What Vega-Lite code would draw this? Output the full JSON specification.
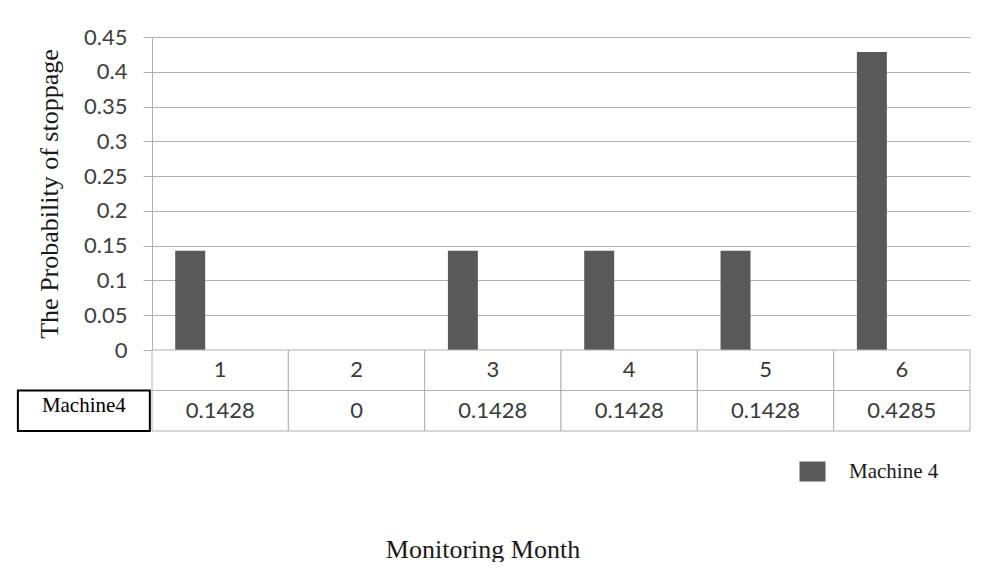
{
  "$schema": "https://vega.github.io/schema/vega-lite/v6.json",
  "padding": {"left": 16, "top": 26, "right": 0, "bottom": 0},
  "autosize": {"type": "pad"},
  "background": "white",
  "spacing": 0,
  "bounds": "flush",
  "config": {"view": {"stroke": null}},
  "datasets": {
    "prob": [
      {"month": 1, "series": "Machine 4", "value": 0.1428},
      {"month": 2, "series": "Machine 4", "value": 0},
      {"month": 3, "series": "Machine 4", "value": 0.1428},
      {"month": 4, "series": "Machine 4", "value": 0.1428},
      {"month": 5, "series": "Machine 4", "value": 0.1428},
      {"month": 6, "series": "Machine 4", "value": 0.4285}
    ],
    "rowlabel": [
      {"month": "Machine4", "label": "Machine4"}
    ]
  },
  "vconcat": [
    {
      "width": 818,
      "height": 313,
      "data": {"name": "prob"},
      "mark": {"type": "bar"},
      "encoding": {
        "x": {
          "field": "month", "type": "nominal",
          "scale": {"domain": [1, 2, 3, 4, 5, 6], "paddingInner": 0, "paddingOuter": 0},
          "axis": null
        },
        "xOffset": {
          "field": "series", "type": "nominal",
          "scale": {"domain": ["Machine 4", "Series 2", "Series 3"], "paddingInner": 0, "paddingOuter": 0.775}
        },
        "y": {
          "field": "value", "type": "quantitative",
          "scale": {"domain": [0, 0.45], "nice": false},
          "axis": {
            "title": "The Probability of stoppage",
            "values": [0, 0.05, 0.1, 0.15, 0.2, 0.25, 0.3, 0.35, 0.4, 0.45],
            "format": ".2~f",
            "grid": true,
            "gridColor": "#b0b0b0",
            "domainColor": "#b0b0b0",
            "tickColor": "#b0b0b0",
            "tickSize": 9,
            "labelPadding": 16,
            "labelFont": "Lato",
            "labelFontSize": 22,
            "labelColor": "#404040",
            "titleFont": "Liberation Serif",
            "titleFontSize": 26,
            "titleFontWeight": "normal",
            "titleColor": "#1a1a1a",
            "titlePadding": 21
          }
        },
        "color": {
          "field": "series", "type": "nominal",
          "scale": {"domain": ["Machine 4"], "range": ["#595959"]},
          "legend": {
            "title": null,
            "orient": "none",
            "legendX": 650,
            "legendY": 424,
            "padding": 0,
            "symbolType": "M-1.3,-1H1.3V1H-1.3Z",
            "symbolSize": 400,
            "symbolStrokeWidth": 0,
            "labelFont": "Liberation Serif",
            "labelFontSize": 21,
            "labelColor": "#1a1a1a",
            "labelOffset": 26
          }
        }
      }
    },
    {
      "width": 818,
      "height": 81,
      "encoding": {
        "x": {
          "field": "month", "type": "nominal",
          "scale": {"domain": ["Machine4", 1, 2, 3, 4, 5, 6], "range": [-136.3, 818], "paddingInner": 0, "paddingOuter": 0},
          "axis": {
            "orient": "bottom",
            "labels": false,
            "ticks": false,
            "domain": false,
            "grid": false,
            "title": "Monitoring Month",
            "titleX": 330.5,
            "titleY": 126,
            "titleBaseline": "alphabetic",
            "titleAlign": "center",
            "titleFont": "Liberation Serif",
            "titleFontSize": 26,
            "titleFontWeight": "normal",
            "titleColor": "#1a1a1a"
          }
        }
      },
      "layer": [
        {
          "data": {"name": "prob"},
          "mark": {"type": "rect", "fill": "white", "stroke": "#b0b0b0", "strokeWidth": 1},
          "encoding": {
            "y": {"datum": "r1", "type": "nominal", "scale": {"domain": ["r1", "r2"], "paddingInner": 0, "paddingOuter": 0}, "axis": null}
          }
        },
        {
          "data": {"name": "prob"},
          "mark": {"type": "rect", "fill": "white", "stroke": "#b0b0b0", "strokeWidth": 1},
          "encoding": {
            "y": {"datum": "r2", "type": "nominal", "axis": null}
          }
        },
        {
          "data": {"name": "prob"},
          "mark": {"type": "text", "font": "Lato", "fontSize": 22, "color": "#3a3a3a", "baseline": "middle"},
          "encoding": {
            "y": {"datum": "r1", "type": "nominal", "axis": null},
            "text": {"field": "month", "type": "nominal"}
          }
        },
        {
          "data": {"name": "prob"},
          "mark": {"type": "text", "font": "Lato", "fontSize": 22, "color": "#3a3a3a", "baseline": "middle"},
          "encoding": {
            "y": {"datum": "r2", "type": "nominal", "axis": null},
            "text": {"field": "value", "type": "quantitative", "format": ".4~f"}
          }
        },
        {
          "data": {"name": "rowlabel"},
          "mark": {"type": "rect", "fill": "white", "stroke": "black", "strokeWidth": 2, "width": {"band": 0.968}},
          "encoding": {
            "y": {"datum": "r2", "type": "nominal", "axis": null}
          }
        },
        {
          "data": {"name": "rowlabel"},
          "mark": {"type": "text", "font": "Liberation Serif", "fontSize": 21, "color": "black", "baseline": "middle", "dy": -5},
          "encoding": {
            "y": {"datum": "r2", "type": "nominal", "axis": null},
            "text": {"field": "label", "type": "nominal"}
          }
        }
      ]
    }
  ]
}
